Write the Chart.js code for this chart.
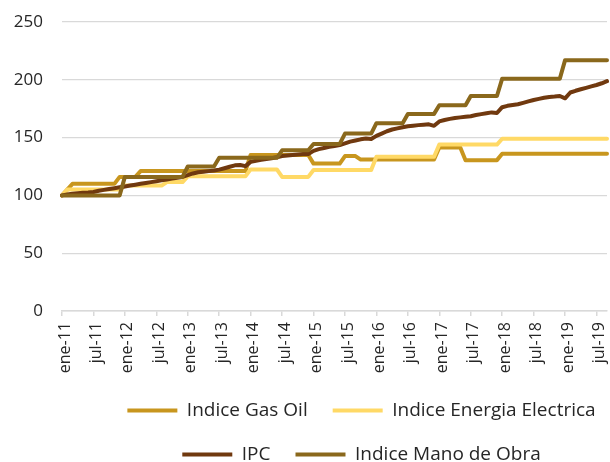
<!DOCTYPE html>
<html>
<head>
<meta charset="utf-8">
<script src="https://cdn.jsdelivr.net/npm/chart.js@4.4.1/dist/chart.umd.min.js"></script>
<style>
  html, body { margin: 0; padding: 0; background: #ffffff; }
  #wrap { width: 610px; height: 462px; }
</style>
</head>
<body>
<div id="wrap"><canvas id="c" width="610" height="462"></canvas></div>
<script>
const categories = [
  'ene-11','feb-11','mar-11','abr-11','may-11','jun-11','jul-11','ago-11','sep-11','oct-11','nov-11','dic-11',
  'ene-12','feb-12','mar-12','abr-12','may-12','jun-12','jul-12','ago-12','sep-12','oct-12','nov-12','dic-12',
  'ene-13','feb-13','mar-13','abr-13','may-13','jun-13','jul-13','ago-13','sep-13','oct-13','nov-13','dic-13',
  'ene-14','feb-14','mar-14','abr-14','may-14','jun-14','jul-14','ago-14','sep-14','oct-14','nov-14','dic-14',
  'ene-15','feb-15','mar-15','abr-15','may-15','jun-15','jul-15','ago-15','sep-15','oct-15','nov-15','dic-15',
  'ene-16','feb-16','mar-16','abr-16','may-16','jun-16','jul-16','ago-16','sep-16','oct-16','nov-16','dic-16',
  'ene-17','feb-17','mar-17','abr-17','may-17','jun-17','jul-17','ago-17','sep-17','oct-17','nov-17','dic-17',
  'ene-18','feb-18','mar-18','abr-18','may-18','jun-18','jul-18','ago-18','sep-18','oct-18','nov-18','dic-18',
  'ene-19','feb-19','mar-19','abr-19','may-19','jun-19','jul-19','ago-19','sep-19'
];

const gasOil = [
  100,105,110,110,110,110,110,110,110,110,110,116,
  116,116,116,121,121,121,121,121,121,121,121,121,
  121,121,121,121,121,121,121,121,121,121,121,121,
  135,135,135,135,135,135,135,135,135,135,135,135,
  127.5,127.5,127.5,127.5,127.5,127.5,134,134,134,131,131,131,
  131,131,131,131,131,131,131,131,131,131,131,131,
  141.5,141.5,141.5,141.5,141.5,130.5,130.5,130.5,130.5,130.5,130.5,130.5,
  136,136,136,136,136,136,136,136,136,136,136,136,
  136,136,136,136,136,136,136,136,136
];

const energiaElectrica = [
  100,105,105,105,105,105,105,105,105,105,105,105,
  108.5,108.5,108.5,108.5,108.5,108.5,108.5,108.5,111.5,111.5,111.5,111.5,
  116.5,116.5,116.5,116.5,116.5,116.5,116.5,116.5,116.5,116.5,116.5,116.5,
  122.5,122.5,122.5,122.5,122.5,122.5,116,116,116,116,116,116,
  122,122,122,122,122,122,122,122,122,122,122,122,
  133.5,133.5,133.5,133.5,133.5,133.5,133.5,133.5,133.5,133.5,133.5,133.5,
  144,144,144,144,144,144,144,144,144,144,144,144,
  149,149,149,149,149,149,149,149,149,149,149,149,
  149,149,149,149,149,149,149,149,149
];

const ipc = [
  100,100.8,101.5,101.8,102.2,102.5,103,104,104.8,105.5,106.2,107,
  107.7,108.5,109.2,110,110.8,111.5,112.3,113,113.8,114.5,115.3,116,
  117.5,119,120,120.5,121,121.5,122.3,123.5,124.8,126,126.3,125.3,
  129,130,130.8,131.5,132.2,133,134,134.6,135,135.4,135.8,135.8,
  138.5,140,141,142,142.7,143.5,145,146.5,147.5,148.5,149.3,148.8,
  151.5,153.5,155.5,157,158,159,159.8,160.3,160.8,161.2,161.5,160.2,
  164,165.2,166.2,167,167.5,168,168.5,169.5,170.3,171,171.8,171.3,
  176.3,177.5,178.2,178.8,180,181.3,182.5,183.5,184.5,185.2,185.5,186,
  184,189,190.5,191.8,193,194.3,195.5,197,198.8
];

const manoDeObra = [
  100,100,100,100,100,100,100,100,100,100,100,100,
  116,116,116,116,116,116,116,116,116,116,116,116,
  125,125,125,125,125,125,132.5,132.5,132.5,132.5,132.5,132.5,
  132.5,132.5,132.5,132.5,132.5,132.5,139,139,139,139,139,139,
  144.5,144.5,144.5,144.5,144.5,144.5,153.5,153.5,153.5,153.5,153.5,153.5,
  162.5,162.5,162.5,162.5,162.5,162.5,170.5,170.5,170.5,170.5,170.5,170.5,
  178,178,178,178,178,178,186,186,186,186,186,186,
  201,201,201,201,201,201,201,201,201,201,201,201,
  217,217,217,217,217,217,217,217,217
];

const yTicks = [0, 50, 100, 150, 200, 250];
const seriesNames = ['Indice Gas Oil', 'Indice Energia Electrica', 'IPC', 'Indice Mano de Obra'];
const seriesColors = ['#C8961E', '#FFD966', '#70390F', '#8A681C'];

const seriesData = [gasOil, energiaElectrica, ipc, manoDeObra];
const datasets = seriesData.map((d, i) => ({
  label: seriesNames[i],
  data: d,
  borderColor: seriesColors[i],
  backgroundColor: seriesColors[i],
  borderWidth: 4,
  pointRadius: 0,
  pointHoverRadius: 0,
  tension: 0,
  borderJoinStyle: 'round',
  borderCapStyle: 'round',
  order: 4 - i
}));

const textColor = '#262626';
const gridColor = '#D9D9D9';

// shift the legend block to the right, as in the original layout
const legendShift = {
  id: 'legendShift',
  afterLayout(chart) {
    const lg = chart.legend;
    if (lg) { lg.left += 58; lg.right += 58; }
  }
};

new Chart(document.getElementById('c'), {
  type: 'line',
  data: { labels: categories, datasets: datasets },
  plugins: [legendShift],
  options: {
    responsive: false,
    animation: false,
    devicePixelRatio: 1,
    layout: { padding: { top: 22, right: 3, bottom: -12, left: 0 } },
    plugins: {
      tooltip: { enabled: false },
      legend: {
        position: 'bottom',
        labels: {
          font: { family: 'Open Sans', size: 19 },
          color: textColor,
          boxWidth: 50,
          boxHeight: 4,
          padding: 25,
          sort: (a, b) => a.datasetIndex - b.datasetIndex,
          generateLabels: (chart) => Chart.defaults.plugins.legend.labels.generateLabels(chart)
            .map(it => Object.assign({}, it, { lineWidth: 0, fillStyle: it.strokeStyle }))
        }
      }
    },
    scales: {
      x: {
        type: 'category',
        offset: false,
        border: { display: true, color: gridColor, width: 1.5 },
        grid: {
          display: true,
          drawOnChartArea: false,
          drawTicks: true,
          tickLength: 5,
          lineWidth: 1.5,
          color: (ctx) => (ctx.index % 6 === 0 ? gridColor : 'rgba(0,0,0,0)')
        },
        ticks: {
          autoSkip: false,
          maxRotation: 90,
          minRotation: 90,
          padding: 6,
          labelOffset: 3,
          color: textColor,
          font: { family: 'Open Sans', size: 16 },
          callback: function (val, index) {
            return index % 6 === 0 ? this.getLabelForValue(val) : '';
          }
        },
        afterFit: (s) => { s.height = 65; s.paddingLeft = 0; s.paddingRight = 0; }
      },
      y: {
        min: 0,
        max: 250,
        border: { display: false },
        grid: { color: gridColor, lineWidth: 1.2, drawTicks: false },
        afterBuildTicks: (s) => { s.ticks = yTicks.map(v => ({ value: v })); },
        ticks: {
          padding: 19,
          color: textColor,
          font: { family: 'Open Sans', size: 17 }
        },
        afterFit: (s) => { s.width = 62; s.paddingTop = 0; s.paddingBottom = 0; }
      }
    }
  }
});
</script>
</body>
</html>
